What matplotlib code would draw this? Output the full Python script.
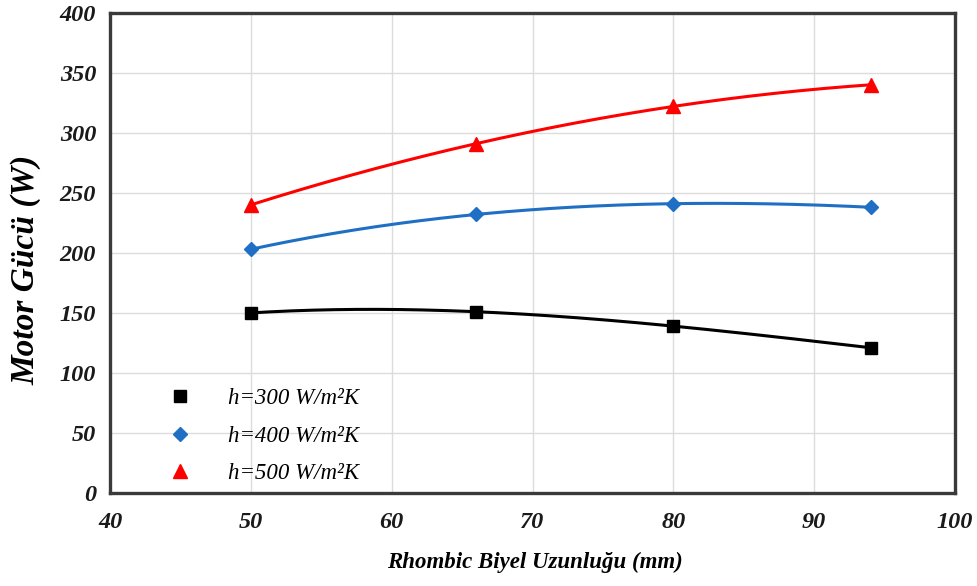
import numpy as np
import matplotlib
matplotlib.use("Agg")
import matplotlib.pyplot as plt

# Data
x_len = [50, 66, 80, 94]
p_300 = [150, 151, 139, 121]
p_400 = [203, 232, 241, 238]
p_500 = [240, 291, 322, 340]
labels = ["h=300 W/m²K", "h=400 W/m²K", "h=500 W/m²K"]
x_ticks = [40, 50, 60, 70, 80, 90, 100]
y_ticks = [0, 50, 100, 150, 200, 250, 300, 350, 400]

plt.rcParams['font.family'] = ['Liberation Serif', 'DejaVu Serif']

fig = plt.figure(figsize=(9.77, 5.86), dpi=100)
ax = fig.add_axes([0.1126, 0.1587, 0.8649, 0.8195])

series = [
    (p_300, 'black', 's', 9),
    (p_400, '#1f6fc5', 'D', 7.5),
    (p_500, '#ff0000', '^', 10),
]
xs = np.array(x_len, dtype=float)
xf = np.linspace(xs.min(), xs.max(), 200)
handles = []
for (ys, c, m, ms), lab in zip(series, labels):
    coef = np.polyfit(xs, np.array(ys, dtype=float), 3)
    ax.plot(xf, np.polyval(coef, xf), color=c, lw=2.2, zorder=3)
    h, = ax.plot(xs, ys, linestyle='none', marker=m, color=c, ms=ms, zorder=4, label=lab)
    handles.append(h)

ax.set_xlim(40, 100)
ax.set_ylim(0, 400)
ax.set_xticks(x_ticks)
ax.set_yticks(y_ticks)
ax.grid(True, color='#dcdcdc', lw=1)
ax.set_axisbelow(True)
ax.tick_params(axis='y', length=0, pad=10)
ax.tick_params(axis='x', length=0, pad=14)
for lbl in ax.get_xticklabels() + ax.get_yticklabels():
    lbl.set_fontsize(17.5)
    lbl.set_fontweight('bold')
    lbl.set_fontstyle('italic')
    lbl.set_color('#1a1a1a')
for s in ax.spines.values():
    s.set_color('#3a3a3a')
    s.set_linewidth(2.4)

ax.set_xlabel("Rhombic Biyel Uzunluğu (mm)", fontsize=16.5, fontweight='bold',
              fontstyle='italic')
ax.xaxis.set_label_coords(0.503, -0.123)
ax.set_ylabel("Motor Gücü (W)", fontsize=24, fontweight='bold',
              fontstyle='italic')
ax.yaxis.set_label_coords(-0.099, 0.465)
ax.yaxis.label.set_va('center')
ax.xaxis.label.set_va('top')

leg = ax.legend(handles=handles, loc='center left', bbox_to_anchor=(0.045, 0.118),
                frameon=False, handlelength=1.0, handletextpad=1.6,
                labelspacing=0.72, prop={'family': 'Liberation Serif',
                                         'style': 'italic', 'size': 16.5})

fig.savefig('out.png', dpi=100)
